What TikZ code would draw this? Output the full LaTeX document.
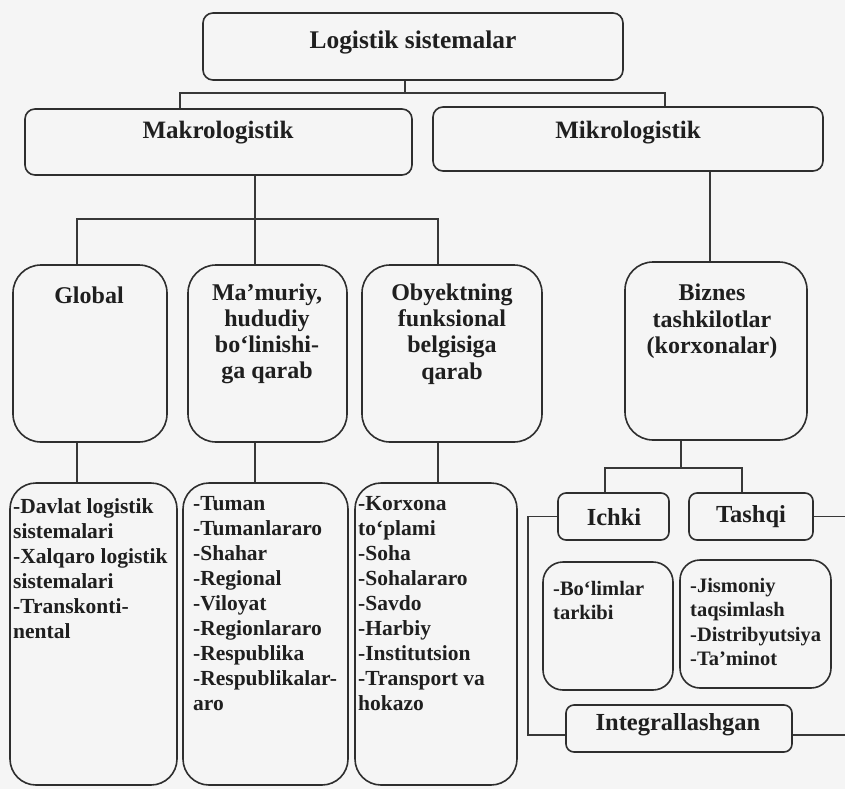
\documentclass[tikz,border=0pt]{standalone}
\usepackage{fontspec}
\setmainfont{Liberation Serif}
\begin{document}
\begin{tikzpicture}[x=1pt,y=-1pt,
  box/.style={draw=black!82, line width=1.6pt, rounded corners=#1, inner sep=0pt},
  box/.default=10,
  conn/.style={draw=black!78, line width=1.3pt},
  lbl/.style={inner sep=0pt, text=black!88, font=\bfseries\fontsize{#1}{#1}\selectfont, align=center},
  lst/.style={inner sep=0pt, text=black!88, anchor=north west, align=left},
  bigtxt/.style={font=\bfseries\fontsize{21.5}{25}\selectfont},
  smalltxt/.style={font=\bfseries\fontsize{20.5}{24.3}\selectfont}
]
\fill[black!4] (0,0) rectangle (845,789);
\useasboundingbox (0,0) rectangle (845,789);

% level 1 and 2
\node[box, minimum width=420, minimum height=67] (top) at (413,46.5) {};
\node[lbl=25.4] (ttop) at (413,42) {Logistik sistemalar};
\node[box, minimum width=387, minimum height=66] (makro) at (218.5,142) {};
\node[lbl=25] (tmakro) at (218,133) {Makrologistik};
\node[box, minimum width=390, minimum height=64] (mikro) at (628,139) {};
\node[lbl=25] (tmikro) at (628,133) {Mikrologistik};

% level 3
\node[box=28, minimum width=154, minimum height=177] (global) at (90,353.5) {};
\node[lbl=24] (tglobal) at (89,295) {Global};
\node[box=28, minimum width=159, minimum height=177] (mamuriy) at (267.5,353.5) {};
\node[lbl=24, font=\bfseries\fontsize{24}{26.2}\selectfont] (tmamuriy) at (267,334) {Ma’muriy,\\hududiy\\bo‘linishi-\\ga qarab};
\node[box=28, minimum width=180, minimum height=177] (obyekt) at (452,353.5) {};
\node[lbl=24, font=\bfseries\fontsize{24}{26.2}\selectfont] (tobyekt) at (452,334) {Obyektning\\funksional\\belgisiga\\qarab};
\node[box=28, minimum width=182, minimum height=178] (biznes) at (716,351) {};
\node[lbl=24, font=\bfseries\fontsize{24}{26.5}\selectfont] (tbiznes) at (712,321.5) {Biznes\\tashkilotlar\\(korxonalar)};

% level 4 (macro lists)
\node[box=26, minimum width=167, minimum height=302] (l1) at (93.5,634) {};
\node[lst, bigtxt] (tl1) at (13,498) {-Davlat logistik\\sistemalari\\-Xalqaro logistik\\sistemalari\\-Transkonti-\\nental};
\node[box=26, minimum width=165, minimum height=302] (l2) at (265.5,634) {};
\node[lst, bigtxt] (tl2) at (193,496) {-Tuman\\-Tumanlararo\\-Shahar\\-Regional\\-Viloyat\\-Regionlararo\\-Respublika\\-Respublikalar-\\aro};
\node[box=26, minimum width=162, minimum height=302] (l3) at (436,634) {};
\node[lst, bigtxt] (tl3) at (358,496) {-Korxona\\to‘plami\\-Soha\\-Sohalararo\\-Savdo\\-Harbiy\\-Institutsion\\-Transport va\\hokazo};

% micro branch
\node[box=8, minimum width=111, minimum height=47] (ichki) at (613.5,516.5) {};
\node[lbl=24.5] (tichki) at (614,517) {Ichki};
\node[box=8, minimum width=124, minimum height=47] (tashqi) at (751,516.5) {};
\node[lbl=24.5] (ttashqi) at (751,517) {Tashqi};
\node[box=20, minimum width=130, minimum height=128] (bolim) at (608,626) {};
\node[lst, smalltxt] (tbolim) at (553,581) {-Bo‘limlar\\tarkibi};
\node[box=20, minimum width=151, minimum height=128] (jism) at (755.5,624) {};
\node[lst, smalltxt] (tjism) at (690,578) {-Jismoniy\\taqsimlash\\-Distribyutsiya\\-Ta’minot};
\node[box=8, minimum width=226, minimum height=47] (integ) at (679,728.5) {};
\node[lbl=24.5] (tinteg) at (678,725) {Integrallashgan};

% connectors
\coordinate (j1) at (405,93);
\coordinate (jl) at (180,93);
\coordinate (jr) at (665,93);
\draw[conn] (j1 |- top.south) -- (j1);
\draw[conn] (jl |- makro.north) -- (jl) -- (jr) -- (jr |- mikro.north);

\coordinate (j2) at (255,219);
\coordinate (j2l) at (77,219);
\coordinate (j2r) at (438,219);
\draw[conn] (j2 |- makro.south) -- (j2 |- mamuriy.north);
\draw[conn] (j2l |- global.north) -- (j2l) -- (j2r) -- (j2r |- obyekt.north);

\coordinate (j3) at (710,200);
\draw[conn] (j3 |- mikro.south) -- (j3 |- biznes.north);

\draw[conn] (j2l |- global.south) -- (j2l |- l1.north);
\draw[conn] (j2 |- mamuriy.south) -- (j2 |- l2.north);
\draw[conn] (j2r |- obyekt.south) -- (j2r |- l3.north);

\coordinate (j4) at (681,468);
\coordinate (j4l) at (605,468);
\coordinate (j4r) at (742,468);
\draw[conn] (j4 |- biznes.south) -- (j4);
\draw[conn] (j4l |- ichki.north) -- (j4l) -- (j4r) -- (j4r |- tashqi.north);

\coordinate (c2) at (528,735);
\coordinate (e1) at (845,600);
\draw[conn] (ichki.west) -| (c2) -- (c2 -| integ.west);
\draw[conn] (tashqi.east) -- (tashqi.east -| e1);
\draw[conn] (c2 -| integ.east) -- (c2 -| e1);
\end{tikzpicture}
\end{document}
